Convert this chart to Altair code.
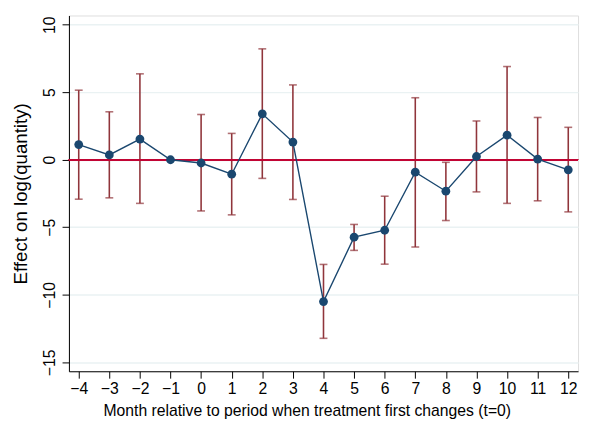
import altair as alt
import pandas as pd

months = [-4, -3, -2, -1, 0, 1, 2, 3, 4, 5, 6, 7, 8, 9, 10, 11, 12]
effect = [1.12, 0.36, 1.53, 0.0, -0.24, -1.07, 3.40, 1.31, -10.50, -5.73, -5.22, -0.92, -2.33, 0.24, 1.82, 0.05, -0.75]
ci_high = [5.15, 3.55, 6.36, None, 3.35, 1.95, 8.21, 5.54, -7.75, -4.79, -2.70, 4.59, -0.19, 2.87, 6.90, 3.13, 2.40]
ci_low = [-2.92, -2.82, -3.23, None, -3.79, -4.08, -1.38, -2.94, -13.22, -6.71, -7.73, -6.46, -4.50, -2.38, -3.23, -3.04, -3.86]
x_ticks = list(range(-4, 13))
y_ticks = [-15, -10, -5, 0, 5, 10]

df = pd.DataFrame({"month": months, "effect": effect, "hi": ci_high, "lo": ci_low})
ci_df = df.dropna()

FONT = "Liberation Sans"
NAVY = "#1a476f"
MAROON = "#90353b"

xscale = alt.Scale(domain=[-4.32, 12.32], nice=False, zero=False)
yscale = alt.Scale(domain=[-15.66, 10.68], nice=False, zero=False)

xaxis = alt.Axis(values=x_ticks, title="Month relative to period when treatment first changes (t=0)",
                 grid=False, labelFontSize=16, titleFontSize=16, tickSize=7, labelPadding=3,
                 labelOverlap=False, titlePadding=6, titleX=242, titleAlign="center",
                 labelFont=FONT, titleFont=FONT, labelColor="black", titleColor="black",
                 domainColor="black", tickColor="black", titleFontWeight="normal", format="d")
yaxis = alt.Axis(values=y_ticks, title="Effect on log(quantity)", grid=True, gridColor="#eaf2f3",
                 gridWidth=1.5, labelAngle=-90, labelAlign="center", labelBaseline="bottom",
                 labelFontSize=16, titleFontSize=19, tickSize=7, labelPadding=5, titlePadding=11,
                 labelOverlap=False,
                 labelFont=FONT, titleFont=FONT, labelColor="black", titleColor="black",
                 domainColor="black", tickColor="black", titleFontWeight="normal")


def X():
    return alt.X("month:Q", scale=xscale, axis=xaxis)


def Y(field):
    return alt.Y(field, scale=yscale, axis=yaxis)


zero = alt.Chart(df).mark_rule(color="#c10534", strokeWidth=1.5).encode(
    x=X(), y=alt.datum(0))
# the zero rule needs full width: use x only via a separate no-x rule below
zero = alt.Chart(df).mark_rule(color="#c10534", strokeWidth=1.5).encode(y=alt.datum(0))

rules = alt.Chart(ci_df).mark_rule(color=MAROON, strokeWidth=1.6).encode(
    x=X(), y=Y("lo:Q"), y2="hi:Q")
caps_hi = alt.Chart(ci_df).mark_tick(color=MAROON, orient="horizontal", size=8, thickness=1.6).encode(
    x=X(), y=Y("hi:Q"))
caps_lo = alt.Chart(ci_df).mark_tick(color=MAROON, orient="horizontal", size=8, thickness=1.6).encode(
    x=X(), y=Y("lo:Q"))

line = alt.Chart(df).mark_line(color=NAVY, strokeWidth=1.4).encode(x=X(), y=Y("effect:Q"))
pts = alt.Chart(df).mark_circle(color=NAVY, size=80, opacity=1).encode(x=X(), y=Y("effect:Q"))

chart = alt.layer(rules, zero, caps_hi, caps_lo, line, pts).properties(
    width=518, height=362,
    autosize=alt.AutoSizeParams(type="none"),
    padding={"left": 62, "top": 4, "right": 3, "bottom": 48},
).configure_view(stroke=None).configure(background="white")

chart.save("out.html", embed_options={"renderer": "svg", "actions": False})
